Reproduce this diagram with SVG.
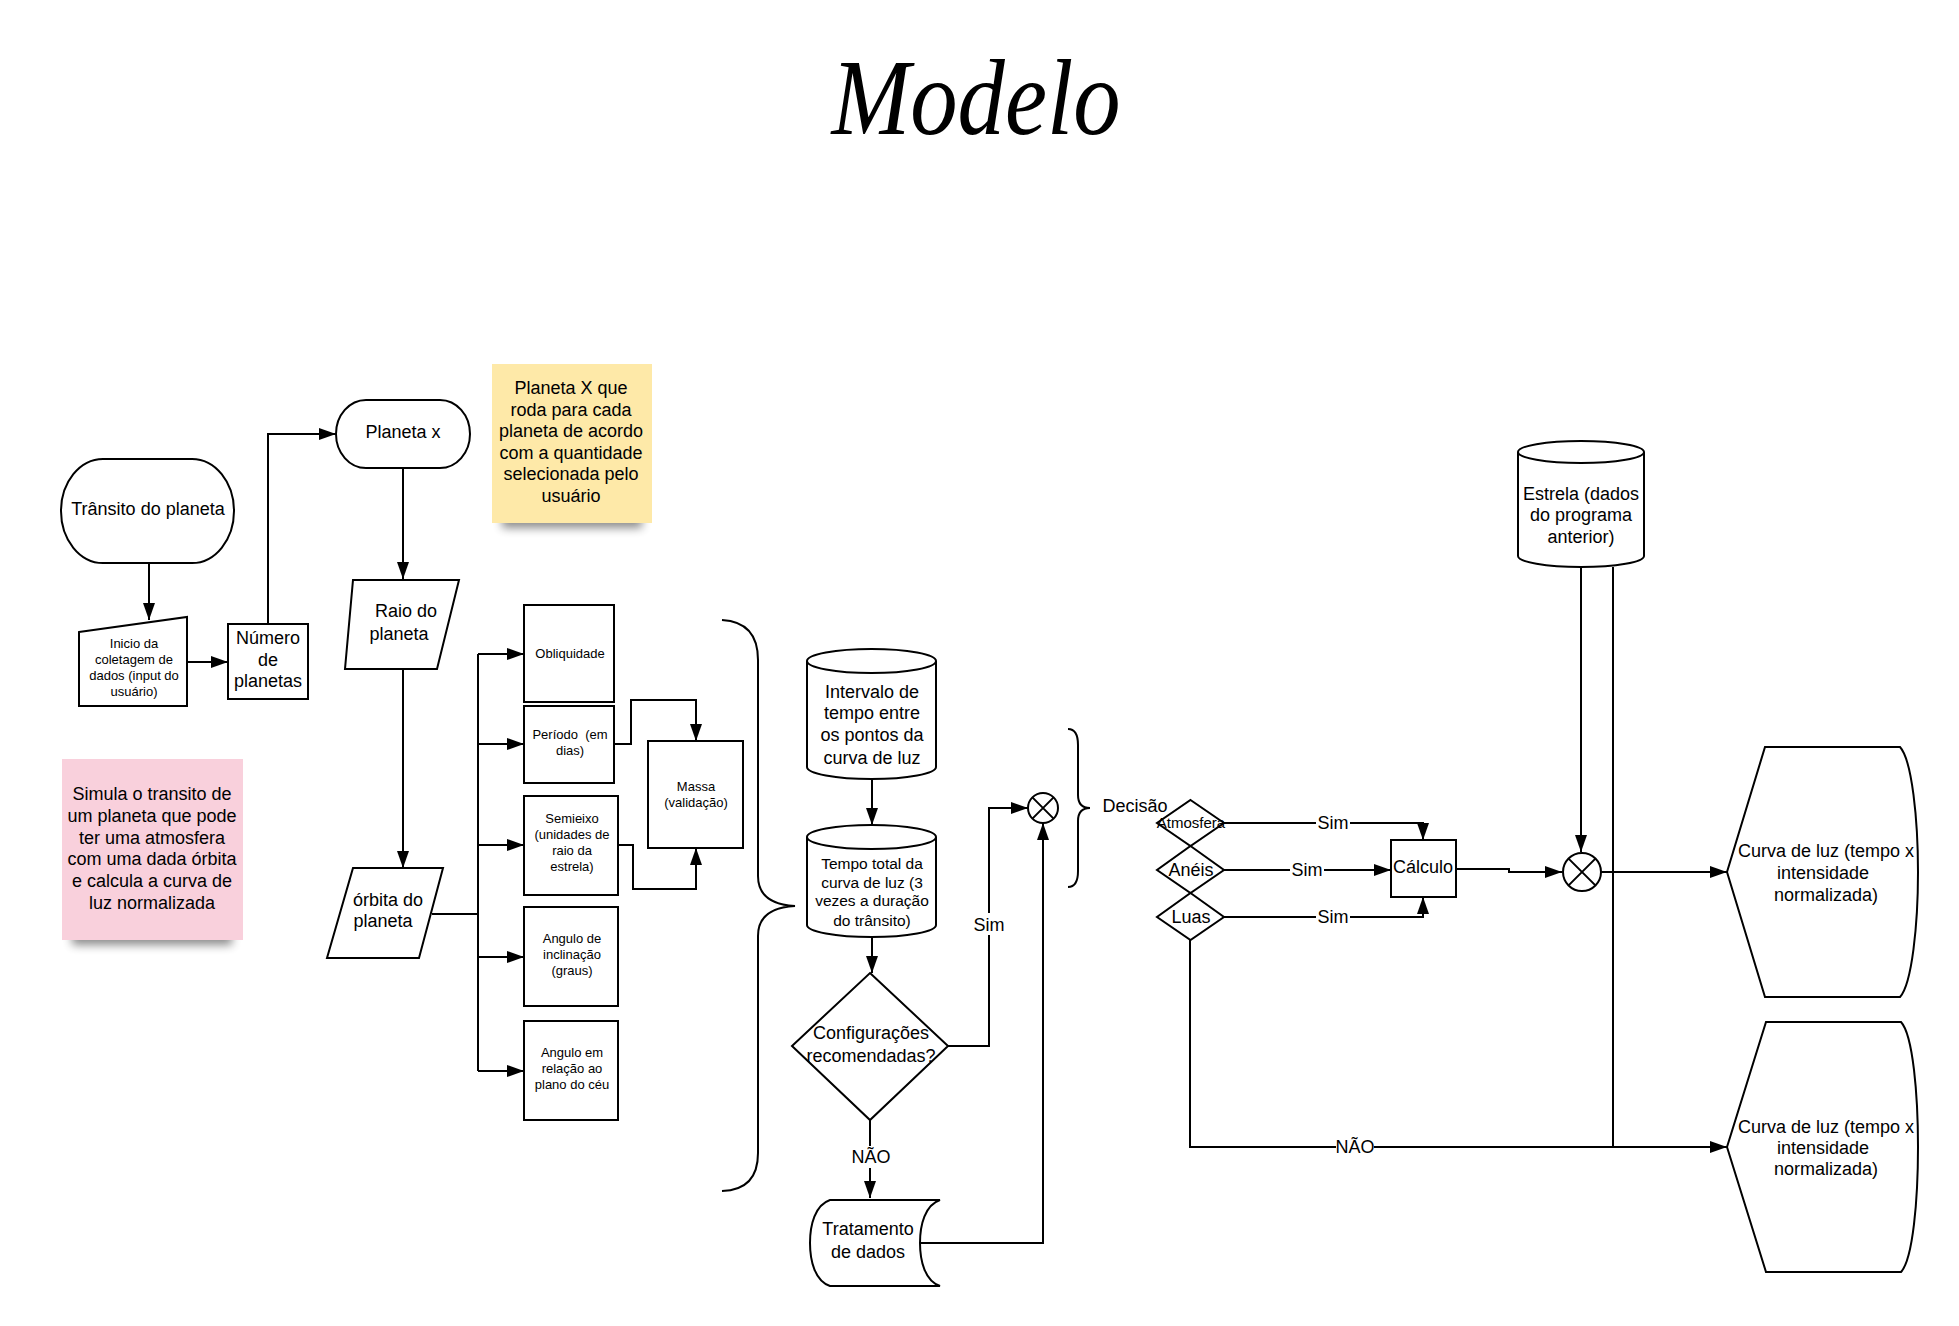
<svg xmlns="http://www.w3.org/2000/svg" width="1959" height="1326" viewBox="0 0 1959 1326">
<defs>
<style>
.s{fill:#fff;stroke:#000;stroke-width:2}
.c{fill:none;stroke:#000;stroke-width:2}
.ca{fill:none;stroke:#000;stroke-width:2;marker-end:url(#ah)}
text{font-family:"Liberation Sans",Arial,sans-serif;fill:#000;text-anchor:middle}
.f13{font-size:13px}
.f15{font-size:15.5px}
.f18{font-size:18px}
.lb{fill:#fff;stroke:none}
</style>
<marker id="ah" markerUnits="userSpaceOnUse" markerWidth="17" markerHeight="12" refX="17" refY="6" orient="auto">
<path d="M0,0 L17,6 L0,12 Z" fill="#000"/>
</marker>
<filter id="blur" x="-20%" y="-100%" width="140%" height="300%">
<feGaussianBlur stdDeviation="5"/>
</filter>
</defs>
<rect width="1959" height="1326" fill="#fff"/>

<text id="title" x="976" y="134" font-family="Liberation Serif" font-style="italic" font-size="108" textLength="289" lengthAdjust="spacingAndGlyphs" style="font-family:'Liberation Serif',serif">Modelo</text>

<g id="connectors">
<path class="ca" d="M149,563 L149,620"/>
<path class="ca" d="M187,662 L228,662"/>
<path class="ca" d="M268,624 L268,434 L336,434"/>
<path class="ca" d="M403,468 L403,579"/>
<path class="ca" d="M403,669 L403,868"/>
<path class="c" d="M432,914 L478,914 M478,654 L478,1071"/>
<path class="ca" d="M478,654 L524,654"/>
<path class="ca" d="M478,744 L524,744"/>
<path class="ca" d="M478,845 L524,845"/>
<path class="ca" d="M478,957 L524,957"/>
<path class="ca" d="M478,1071 L524,1071"/>
<path class="ca" d="M614,744 L631,744 L631,700 L696,700 L696,741"/>
<path class="ca" d="M618,845 L633,845 L633,889 L696,889 L696,848"/>
<path class="ca" d="M872,779 L872,825"/>
<path class="ca" d="M872,937 L872,973"/>
<path class="ca" d="M948,1046 L989,1046 L989,808 L1028,808"/>
<path class="ca" d="M870,1120 L870,1198"/>
<path class="ca" d="M921,1243 L1043,1243 L1043,823"/>
<path class="ca" d="M1224,823 L1423,823 L1423,840"/>
<path class="ca" d="M1224,870 L1391,870"/>
<path class="ca" d="M1224,917 L1423,917 L1423,897"/>
<path class="ca" d="M1456,869 L1509,869 L1509,872 L1562,872"/>
<path class="ca" d="M1581,567 L1581,852"/>
<path class="c" d="M1613,567 L1613,1147"/>
<path class="ca" d="M1601,872 L1727,872"/>
<path class="ca" d="M1190,940 L1190,1147 L1727,1147"/>
<rect class="lb" x="972" y="913" width="34" height="22"/>
<text class="f18" x="989" y="931">Sim</text>
<rect class="lb" x="852" y="1146" width="38" height="22"/>
<text class="f18" x="871" y="1163">NÃO</text>
<rect class="lb" x="1316" y="812" width="34" height="22"/>
<text class="f18" x="1333" y="829">Sim</text>
<rect class="lb" x="1290" y="859" width="34" height="22"/>
<text class="f18" x="1307" y="876">Sim</text>
<rect class="lb" x="1316" y="906" width="34" height="22"/>
<text class="f18" x="1333" y="923">Sim</text>
<rect class="lb" x="1336" y="1136" width="38" height="22"/>
<text class="f18" x="1355" y="1153">NÃO</text>
</g>

<g id="transito">
<rect class="s" x="61" y="459" width="173" height="104" rx="42" ry="52"/>
<text class="f18" x="148" y="515">Trânsito do planeta</text>
</g>

<g id="inicio">
<path class="s" d="M79,632 L187,617 L187,706 L79,706 Z"/>
<text class="f13"><tspan x="134" y="648">Inicio da</tspan><tspan x="134" y="664">coletagem de</tspan><tspan x="134" y="680">dados (input do</tspan><tspan x="134" y="696">usuário)</tspan></text>
</g>

<g id="numero">
<rect class="s" x="228" y="624" width="80" height="75"/>
<text class="f18"><tspan x="268" y="644">Número</tspan><tspan x="268" y="666">de</tspan><tspan x="268" y="687">planetas</tspan></text>
</g>

<g id="planetax">
<rect class="s" x="336" y="400" width="134" height="68" rx="30" ry="34"/>
<text class="f18" x="403" y="438">Planeta x</text>
</g>

<g id="note-yellow">
<rect x="502" y="508" width="140" height="20" fill="#000" opacity="0.45" filter="url(#blur)"/>
<rect x="492" y="364" width="160" height="159" fill="#FEE9A8"/>
<text class="f18"><tspan x="571" y="394">Planeta X que</tspan><tspan x="571" y="416">roda para cada</tspan><tspan x="571" y="437">planeta de acordo</tspan><tspan x="571" y="459">com a quantidade</tspan><tspan x="571" y="480">selecionada pelo</tspan><tspan x="571" y="502">usuário</tspan></text>
</g>

<g id="note-pink">
<rect x="72" y="925" width="160" height="20" fill="#000" opacity="0.45" filter="url(#blur)"/>
<rect x="62" y="759" width="181" height="181" fill="#F9D0DC"/>
<text class="f18"><tspan x="152" y="800">Simula o transito de</tspan><tspan x="152" y="822">um planeta que pode</tspan><tspan x="152" y="844">ter uma atmosfera</tspan><tspan x="152" y="865">com uma dada órbita</tspan><tspan x="152" y="887">e calcula a curva de</tspan><tspan x="152" y="909">luz normalizada</tspan></text>
</g>

<g id="raio">
<path class="s" d="M353,580 L459,580 L437,669 L345,669 Z"/>
<text class="f18"><tspan x="406" y="617">Raio do</tspan><tspan x="399" y="640">planeta</tspan></text>
</g>

<g id="orbita">
<path class="s" d="M353,868 L443,868 L419,958 L327,958 Z"/>
<text class="f18"><tspan x="388" y="906">órbita do</tspan><tspan x="383" y="927">planeta</tspan></text>
</g>

<g id="obliquidade">
<rect class="s" x="524" y="605" width="90" height="97"/>
<text class="f13" x="570" y="658">Obliquidade</text>
</g>

<g id="periodo">
<rect class="s" x="524" y="706" width="90" height="77"/>
<text class="f13" xml:space="preserve" style="white-space:pre"><tspan x="570" y="739">Período  (em</tspan><tspan x="570" y="755">dias)</tspan></text>
</g>

<g id="semieixo">
<rect class="s" x="524" y="796" width="94" height="99"/>
<text class="f13"><tspan x="572" y="823">Semieixo</tspan><tspan x="572" y="839">(unidades de</tspan><tspan x="572" y="855">raio da</tspan><tspan x="572" y="871">estrela)</tspan></text>
</g>

<g id="inclinacao">
<rect class="s" x="524" y="907" width="94" height="99"/>
<text class="f13"><tspan x="572" y="943">Angulo de</tspan><tspan x="572" y="959">inclinação</tspan><tspan x="572" y="975">(graus)</tspan></text>
</g>

<g id="angulo-ceu">
<rect class="s" x="524" y="1021" width="94" height="99"/>
<text class="f13"><tspan x="572" y="1057">Angulo em</tspan><tspan x="572" y="1073">relação ao</tspan><tspan x="572" y="1089">plano do céu</tspan></text>
</g>

<g id="massa">
<rect class="s" x="648" y="741" width="95" height="107"/>
<text class="f13"><tspan x="696" y="791">Massa</tspan><tspan x="696" y="807">(validação)</tspan></text>
</g>

<g id="brace-big">
<path class="c" d="M722,620 Q758,622 758,660 L758,876 Q758,904 795,906 Q758,908 758,936 L758,1153 Q758,1190 722,1191"/>
</g>

<g id="intervalo">
<path class="s" d="M807,661 L807,767 A64.5,12 0 0 0 936,767 L936,661"/>
<ellipse class="s" cx="871.5" cy="661" rx="64.5" ry="12"/>
<text class="f18"><tspan x="872" y="698">Intervalo de</tspan><tspan x="872" y="719">tempo entre</tspan><tspan x="872" y="741">os pontos da</tspan><tspan x="872" y="764">curva de luz</tspan></text>
</g>

<g id="tempo-total">
<path class="s" d="M807,837 L807,925 A64.5,12 0 0 0 936,925 L936,837"/>
<ellipse class="s" cx="871.5" cy="837" rx="64.5" ry="12"/>
<text class="f15"><tspan x="872" y="869">Tempo total da</tspan><tspan x="872" y="888">curva de luz (3</tspan><tspan x="872" y="906">vezes a duração</tspan><tspan x="872" y="926">do trânsito)</tspan></text>
</g>

<g id="configuracoes">
<path class="s" d="M870,973 L948,1046 L870,1120 L792,1046 Z"/>
<text class="f18"><tspan x="871" y="1039">Configurações</tspan><tspan x="871" y="1062">recomendadas?</tspan></text>
</g>

<g id="tratamento">
<path class="s" d="M830,1200 L940,1200 C925,1205 920,1225 920,1243 C920,1261 925,1281 940,1286 L830,1286 C815,1281 810,1261 810,1243 C810,1225 815,1205 830,1200 Z"/>
<text class="f18"><tspan x="868" y="1235">Tratamento</tspan><tspan x="868" y="1258">de dados</tspan></text>
</g>

<g id="juncao1">
<circle class="s" cx="1043" cy="808" r="15"/>
<path class="c" d="M1032.4,797.4 L1053.6,818.6 M1053.6,797.4 L1032.4,818.6"/>
</g>

<g id="brace-decisao">
<path class="c" d="M1068,729 Q1078,729 1078,745 L1078,795 Q1078,808 1090,808 Q1078,808 1078,821 L1078,871 Q1078,887 1068,887"/>
<text class="f18" x="1135" y="812">Decisão</text>
</g>

<g id="atmosfera">
<path class="s" d="M1190.5,800 L1224,823 L1190.5,846 L1157,823 Z"/>
<text x="1191" y="828" style="font-size:15px">Atmosfera</text>
</g>

<g id="aneis">
<path class="s" d="M1190.5,846 L1224,870 L1190.5,893 L1157,870 Z"/>
<text class="f18" x="1191" y="876">Anéis</text>
</g>

<g id="luas">
<path class="s" d="M1190.5,893 L1224,917 L1190.5,940 L1157,917 Z"/>
<text class="f18" x="1191" y="923">Luas</text>
</g>

<g id="calculo">
<rect class="s" x="1391" y="840" width="65" height="57"/>
<text class="f18" x="1423" y="873">Cálculo</text>
</g>

<g id="estrela">
<path class="s" d="M1518,452 L1518,556 A63,11 0 0 0 1644,556 L1644,452"/>
<ellipse class="s" cx="1581" cy="452" rx="63" ry="11"/>
<text class="f18"><tspan x="1581" y="500">Estrela (dados</tspan><tspan x="1581" y="521">do programa</tspan><tspan x="1581" y="543">anterior)</tspan></text>
</g>

<g id="juncao2">
<circle class="s" cx="1582" cy="872" r="19"/>
<path class="c" d="M1568.6,858.6 L1595.4,885.4 M1595.4,858.6 L1568.6,885.4"/>
</g>

<g id="curva1">
<path class="s" d="M1765,747 L1900,747 C1912,760 1918,820 1918,872 C1918,924 1912,984 1900,997 L1765,997 L1727,872 Z"/>
<text class="f18"><tspan x="1826" y="857">Curva de luz (tempo x</tspan><tspan x="1823" y="879">intensidade</tspan><tspan x="1826" y="901">normalizada)</tspan></text>
</g>

<g id="curva2">
<path class="s" d="M1766,1022 L1901,1022 C1913,1035 1918,1095 1918,1147 C1918,1199 1913,1259 1901,1272 L1766,1272 L1727,1147 Z"/>
<text class="f18"><tspan x="1826" y="1133">Curva de luz (tempo x</tspan><tspan x="1823" y="1154">intensidade</tspan><tspan x="1826" y="1175">normalizada)</tspan></text>
</g>
</svg>
